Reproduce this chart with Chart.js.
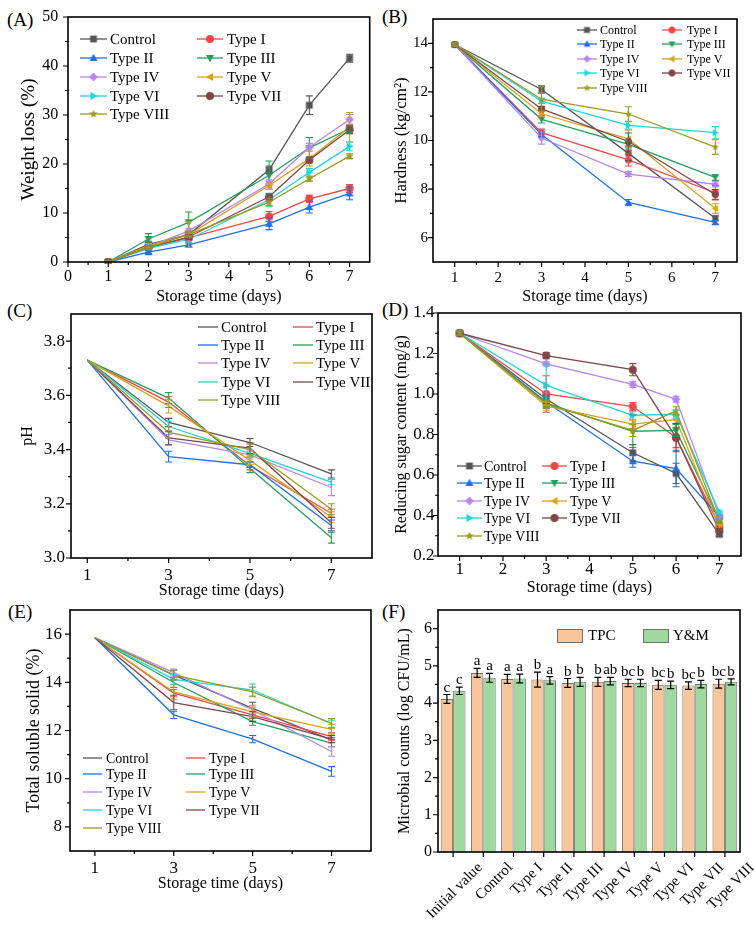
<!DOCTYPE html>
<html>
<head>
<meta charset="utf-8">
<script src="https://cdn.jsdelivr.net/npm/chart.js@4.4.1/dist/chart.umd.min.js"></script>
<style>
  body { margin: 0; background: #fff; width: 755px; height: 928px; position: relative; overflow: hidden; font-family: "Liberation Serif", serif; }
  canvas { position: absolute; }
  .tag { position: absolute; font-size: 19px; line-height: 1; color: #000; }
</style>
</head>
<body>
<div class="tag" style="left:7px;top:10px">(A)</div>
<div class="tag" style="left:382px;top:7px">(B)</div>
<div class="tag" style="left:7px;top:301px">(C)</div>
<div class="tag" style="left:382px;top:300px">(D)</div>
<div class="tag" style="left:8px;top:602px">(E)</div>
<div class="tag" style="left:382px;top:602px">(F)</div>

<canvas id="cA" width="375" height="310" style="left:0;top:0"></canvas>
<canvas id="cB" width="380" height="310" style="left:375px;top:0"></canvas>
<canvas id="cC" width="375" height="305" style="left:0;top:300px"></canvas>
<canvas id="cD" width="380" height="300" style="left:375px;top:300px"></canvas>
<canvas id="cE" width="375" height="328" style="left:0;top:600px"></canvas>
<canvas id="cF" width="380" height="328" style="left:375px;top:600px"></canvas>

<script>
const SERIF = '"Liberation Serif", "Times New Roman", serif';

const seriesNames = ['Control', 'Type I', 'Type II', 'Type III', 'Type IV', 'Type V', 'Type VI', 'Type VII', 'Type VIII'];
const seriesColors = ['#555555', '#f24646', '#1f6fe5', '#25a05c', '#b586ee', '#d9a21b', '#1fd6da', '#7e4646', '#9a9a1e'];
const markerShapes = ['square', 'circle', 'tri', 'triDown', 'diamond', 'triLeft', 'triRight', 'circle', 'star'];

// (A) weight loss (%)
const daysA = [1, 2, 3, 5, 6, 7];
const weightLoss = [
  [0, 3.6, 5.6, 18.8, 32.0, 41.6],
  [0, 3.0, 4.9, 9.3, 12.9, 15.0],
  [0, 2.0, 3.5, 7.8, 11.2, 14.0],
  [0, 4.7, 8.1, 17.7, 23.3, 27.2],
  [0, 3.2, 6.3, 15.9, 23.4, 29.1],
  [0, 3.3, 5.6, 15.6, 21.1, 27.5],
  [0, 2.8, 4.6, 12.7, 18.3, 23.6],
  [0, 3.0, 5.1, 13.3, 20.8, 27.0],
  [0, 3.0, 5.6, 12.2, 17.0, 21.6]
];
const weightLossErr = [
  [0.2, 0.4, 0.5, 0.8, 1.9, 0.8],
  [0.2, 0.3, 0.5, 1.0, 0.7, 0.8],
  [0.2, 0.3, 0.4, 1.2, 1.2, 1.3],
  [0.2, 1.1, 2.1, 2.9, 2.1, 0.8],
  [0.2, 0.5, 0.6, 0.8, 0.8, 1.0],
  [0.2, 0.5, 2.6, 0.8, 1.5, 3.0],
  [0.2, 0.3, 0.5, 1.3, 0.8, 0.9],
  [0.2, 0.3, 0.5, 0.6, 0.6, 0.8],
  [0.2, 0.3, 0.5, 0.7, 0.5, 0.5]
];
const weightTicks = [0, 10, 20, 30, 40, 50];
const weightMinor = [5, 15, 25, 35, 45];
const dayTicksA = [0, 1, 2, 3, 4, 5, 6, 7];
const dayMinorA = [0.5, 1.5, 2.5, 3.5, 4.5, 5.5, 6.5];

// (B) hardness (kg/cm2)
const daysB = [1, 3, 5, 7];
const hardness = [
  [13.95, 12.1, 9.47, 6.8],
  [13.95, 10.32, 9.2, 7.85],
  [13.95, 10.25, 7.45, 6.63],
  [13.95, 10.87, 9.84, 8.48],
  [13.95, 10.1, 8.62, 8.2],
  [13.95, 11.1, 10.07, 7.2],
  [13.95, 11.62, 10.62, 10.32],
  [13.95, 11.3, 9.96, 7.78],
  [13.95, 11.7, 11.09, 9.73]
];
const hardnessErr = [
  [0.05, 0.15, 0.3, 0.1],
  [0.05, 0.15, 0.25, 0.3],
  [0.05, 0.1, 0.12, 0.08],
  [0.05, 0.15, 0.15, 0.12],
  [0.05, 0.25, 0.1, 0.1],
  [0.05, 0.1, 0.35, 0.2],
  [0.05, 0.1, 0.15, 0.25],
  [0.05, 0.1, 0.35, 0.2],
  [0.05, 0.5, 0.3, 0.3]
];
const hardnessTicks = [6, 8, 10, 12, 14];
const hardnessMinor = [7, 9, 11, 13];
const dayTicksB = [1, 2, 3, 4, 5, 6, 7];
const dayMinorB = [1.5, 2.5, 3.5, 4.5, 5.5, 6.5];

// (C) pH
const daysC = [1, 3, 5, 7];
const pH = [
  [3.73, 3.50, 3.426, 3.31],
  [3.73, 3.575, 3.34, 3.165],
  [3.73, 3.374, 3.344, 3.12],
  [3.73, 3.59, 3.33, 3.075],
  [3.73, 3.436, 3.38, 3.26],
  [3.73, 3.56, 3.36, 3.15],
  [3.73, 3.485, 3.386, 3.28],
  [3.73, 3.443, 3.405, 3.13],
  [3.73, 3.463, 3.40, 3.18]
];
const pHErr = [
  [0, 0.015, 0.015, 0.015],
  [0, 0.02, 0.015, 0.015],
  [0, 0.02, 0.01, 0.02],
  [0, 0.02, 0.015, 0.02],
  [0, 0.02, 0.015, 0.03],
  [0, 0.025, 0.015, 0.02],
  [0, 0.02, 0.015, 0.01],
  [0, 0.025, 0.02, 0.02],
  [0, 0.02, 0.02, 0.02]
];
const pHTicks = [3.0, 3.2, 3.4, 3.6, 3.8];
const pHMinor = [3.1, 3.3, 3.5, 3.7];
const dayTicksOdd = [1, 3, 5, 7];
const dayMinorEven = [2, 4, 6];

// (D) reducing sugar content (mg/g)
const daysD = [1, 3, 5, 6, 7];
const reducingSugar = [
  [1.30, 0.975, 0.71, 0.608, 0.307],
  [1.30, 1.00, 0.938, 0.785, 0.35],
  [1.30, 0.96, 0.668, 0.632, 0.394],
  [1.30, 0.955, 0.816, 0.82, 0.378],
  [1.30, 1.149, 1.047, 0.974, 0.397],
  [1.30, 0.94, 0.851, 0.874, 0.345],
  [1.30, 1.043, 0.895, 0.90, 0.417],
  [1.30, 1.19, 1.12, 0.785, 0.325],
  [1.30, 0.95, 0.82, 0.917, 0.37]
];
const reducingSugarErr = [
  [0.01, 0.02, 0.04, 0.05, 0.01],
  [0.01, 0.09, 0.02, 0.05, 0.01],
  [0.01, 0.03, 0.03, 0.09, 0.01],
  [0.01, 0.02, 0.08, 0.03, 0.01],
  [0.01, 0.01, 0.015, 0.015, 0.01],
  [0.01, 0.02, 0.02, 0.02, 0.01],
  [0.01, 0.1, 0.02, 0.02, 0.01],
  [0.01, 0.015, 0.03, 0.07, 0.01],
  [0.01, 0.02, 0.03, 0.02, 0.01]
];
const sugarTicks = [0.2, 0.4, 0.6, 0.8, 1.0, 1.2, 1.4];
const sugarMinor = [0.3, 0.5, 0.7, 0.9, 1.1, 1.3];

// (E) total soluble solid (%)
const daysE = [1, 3, 5, 7];
const solubleSolid = [
  [15.85, 14.3, 12.92, 11.6],
  [15.85, 13.55, 12.65, 11.75],
  [15.85, 12.65, 11.64, 10.3],
  [15.85, 13.99, 12.37, 11.48],
  [15.85, 14.4, 12.85, 11.13],
  [15.85, 13.6, 12.77, 12.05],
  [15.85, 14.12, 13.68, 12.28],
  [15.85, 13.16, 12.58, 11.64],
  [15.85, 14.3, 13.6, 12.3]
];
const solubleSolidErr = [
  [0, 0.2, 0.25, 0.1],
  [0, 0.15, 0.15, 0.15],
  [0, 0.15, 0.15, 0.2],
  [0, 0.2, 0.15, 0.15],
  [0, 0.15, 0.2, 0.2],
  [0, 0.3, 0.2, 0.2],
  [0, 0.2, 0.25, 0.15],
  [0, 0.3, 0.2, 0.15],
  [0, 0.2, 0.2, 0.2]
];
const solidTicks = [8, 10, 12, 14, 16];
const solidMinor = [9, 11, 13, 15];

// (F) microbial counts (log CFU/mL)
const microbeGroups = ['Initial value', 'Control', 'Type I', 'Type II', 'Type III', 'Type IV', 'Type V', 'Type VI', 'Type VII', 'Type VIII'];
const tpc = [4.11, 4.81, 4.65, 4.63, 4.54, 4.57, 4.54, 4.49, 4.47, 4.52];
const tpcErr = [0.12, 0.12, 0.12, 0.2, 0.12, 0.12, 0.1, 0.12, 0.1, 0.12];
const tpcLetters = ['c', 'a', 'a', 'b', 'b', 'b', 'bc', 'bc', 'bc', 'bc'];
const yeastMould = [4.33, 4.68, 4.66, 4.61, 4.57, 4.59, 4.54, 4.49, 4.51, 4.57];
const yeastMouldErr = [0.1, 0.12, 0.12, 0.1, 0.12, 0.1, 0.1, 0.1, 0.1, 0.08];
const yeastMouldLetters = ['c', 'a', 'a', 'a', 'b', 'ab', 'b', 'b', 'b', 'b'];
const countTicks = [0, 1, 2, 3, 4, 5, 6];
const countMinor = [0.5, 1.5, 2.5, 3.5, 4.5, 5.5];

function makeMarker(shape, color, r) {
  const c = document.createElement('canvas');
  const s = Math.ceil(2 * r + 4);
  c.width = c.height = s;
  const g = c.getContext('2d');
  g.translate(s / 2, s / 2);
  g.rotate({ triDown: Math.PI, triLeft: -Math.PI / 2, triRight: Math.PI / 2 }[shape] || 0);
  g.fillStyle = color;
  g.beginPath();
  const poly = (pts) => { pts.forEach(([px, py], k) => (k ? g.lineTo(px, py) : g.moveTo(px, py))); g.closePath(); };
  if (shape === 'circle') g.arc(0, 0, r, 0, Math.PI * 2);
  else if (shape === 'square') { const h = r * 0.85; g.rect(-h, -h, 2 * h, 2 * h); }
  else if (shape === 'diamond') poly([[0, -r * 1.1], [r * 1.1, 0], [0, r * 1.1], [-r * 1.1, 0]]);
  else if (shape === 'star') {
    const pts = [];
    for (let k = 0; k < 10; k++) {
      const a = -Math.PI / 2 + k * Math.PI / 5, rr = k % 2 ? r * 0.45 : r * 1.15;
      pts.push([rr * Math.cos(a), rr * Math.sin(a)]);
    }
    poly(pts);
  } else poly([[0, -r * 1.05], [r, r * 0.75], [-r, r * 0.75]]);
  g.fill();
  return c;
}

// box with outward major / minor ticks
const framePlugin = {
  id: 'frame',
  afterDraw(chart, args, o) {
    const { ctx, chartArea: a, scales: { x, y } } = chart;
    ctx.save();
    ctx.strokeStyle = '#000';
    ctx.lineWidth = 1.2;
    ctx.beginPath();
    (o.xMajor || []).forEach((v) => { const p = x.getPixelForValue(v); ctx.moveTo(p, a.bottom); ctx.lineTo(p, a.bottom + 5); });
    (o.xMinor || []).forEach((v) => { const p = x.getPixelForValue(v); ctx.moveTo(p, a.bottom); ctx.lineTo(p, a.bottom + 3); });
    (o.yMajor || []).forEach((v) => { const p = y.getPixelForValue(v); ctx.moveTo(a.left, p); ctx.lineTo(a.left - 5, p); });
    (o.yMinor || []).forEach((v) => { const p = y.getPixelForValue(v); ctx.moveTo(a.left, p); ctx.lineTo(a.left - 3, p); });
    ctx.stroke();
    ctx.lineWidth = 1.6;
    ctx.strokeRect(a.left, a.top, a.right - a.left, a.bottom - a.top);
    ctx.restore();
  }
};

const errorBars = {
  id: 'errorBars',
  afterDatasetsDraw(chart, args, o) {
    const { ctx } = chart, y = chart.scales.y, cap = o.cap || 3.5;
    ctx.save();
    ctx.lineWidth = o.width || 1.1;
    chart.data.datasets.forEach((ds, i) => {
      ctx.strokeStyle = o.color || ds.borderColor;
      chart.getDatasetMeta(i).data.forEach((el, j) => {
        const err = ds.errors[j];
        if (!err) return;
        const raw = ds.data[j], v = typeof raw === 'object' ? raw.y : raw;
        const top = y.getPixelForValue(v + err), bot = y.getPixelForValue(v - err);
        ctx.beginPath();
        ctx.moveTo(el.x, top); ctx.lineTo(el.x, bot);
        ctx.moveTo(el.x - cap, top); ctx.lineTo(el.x + cap, top);
        ctx.moveTo(el.x - cap, bot); ctx.lineTo(el.x + cap, bot);
        ctx.stroke();
      });
    });
    ctx.restore();
  }
};

const seriesLegend = {
  id: 'seriesLegend',
  afterDraw(chart, args, o) {
    if (!o.rows) return;
    const ctx = chart.ctx;
    ctx.save();
    ctx.font = o.size + 'px ' + SERIF;
    ctx.textBaseline = 'middle';
    chart.data.datasets.forEach((ds, i) => {
      const col = o.cols[i % 2], y = o.rows[Math.floor(i / 2)];
      ctx.strokeStyle = ds.borderColor;
      ctx.lineWidth = 1.3;
      ctx.beginPath(); ctx.moveTo(col[0], y); ctx.lineTo(col[1], y); ctx.stroke();
      if (ds.pointStyle) ctx.drawImage(ds.pointStyle, (col[0] + col[1]) / 2 - ds.pointStyle.width / 2, y - ds.pointStyle.height / 2);
      ctx.fillStyle = '#000';
      ctx.fillText(ds.label, col[2], y + 1);
    });
    ctx.restore();
  }
};

function linePanel(id, c) {
  const datasets = seriesNames.map((name, i) => ({
    label: name,
    data: c.days.map((d, j) => ({ x: d, y: c.values[i][j] })),
    errors: c.errors[i],
    borderColor: seriesColors[i],
    backgroundColor: seriesColors[i],
    borderWidth: 1.3,
    pointStyle: c.markerR ? makeMarker(markerShapes[i], seriesColors[i], c.markerR) : false,
    pointRadius: c.markerR ? 4 : 0,
    order: seriesNames.length - i,
    tension: 0
  }));
  const fmt = (v) => Number(v).toFixed(c.decimals || 0);
  new Chart(document.getElementById(id), {
    type: 'line',
    data: { datasets },
    plugins: [framePlugin, errorBars, seriesLegend],
    options: {
      responsive: false,
      animation: false,
      devicePixelRatio: 1,
      events: [],
      layout: { padding: { top: c.padTop, right: c.padRight, left: 0, bottom: 0 } },
      plugins: {
        legend: { display: false },
        tooltip: { enabled: false },
        frame: { xMajor: c.xMajor, xMinor: c.xMinor, yMajor: c.yMajor, yMinor: c.yMinor },
        errorBars: { cap: 3.5 },
        seriesLegend: c.legend
      },
      scales: {
        x: {
          type: 'linear', min: c.xMin, max: c.xMax,
          afterBuildTicks: (s) => { s.ticks = c.xMajor.map((v) => ({ value: v })); },
          afterFit: (s) => { s.height = c.xHeight; s.paddingLeft = s.paddingRight = 0; },
          grid: { display: false, drawTicks: false },
          border: { display: false },
          ticks: { color: '#000', font: { family: SERIF, size: c.tickSize }, padding: c.xTickPad, maxRotation: 0, callback: (v) => String(v) },
          title: { display: true, text: 'Storage time (days)', color: '#000', font: { family: SERIF, size: 16 }, padding: { top: 0, bottom: c.xTitlePad } }
        },
        y: {
          min: c.yMin, max: c.yMax,
          afterBuildTicks: (s) => { s.ticks = c.yMajor.map((v) => ({ value: v })); },
          afterFit: (s) => { s.width = c.yWidth; s.paddingTop = s.paddingBottom = 0; },
          grid: { display: false, drawTicks: false },
          border: { display: false },
          ticks: { color: '#000', font: { family: SERIF, size: c.tickSize }, padding: c.yTickPad, callback: fmt },
          title: { display: true, text: c.yTitle, color: '#000', font: { family: SERIF, size: c.yTitleSize }, padding: { top: c.yTitlePad, bottom: 0 } }
        }
      }
    }
  });
}

linePanel('cA', {
  days: daysA, values: weightLoss, errors: weightLossErr, markerR: 4,
  xMin: 0, xMax: 7.5, yMin: 0, yMax: 50,
  xMajor: dayTicksA, xMinor: dayMinorA, yMajor: weightTicks, yMinor: weightMinor,
  yTitle: 'Weight loss (%)', yTitleSize: 19, yTitlePad: 17.6, xTitlePad: 3.4,
  tickSize: 16, xTickPad: 5.4, yTickPad: 9.7,
  padTop: 17, padRight: 3, yWidth: 68, xHeight: 48,
  legend: { size: 15, cols: [[80, 107, 110], [197, 223, 227]], rows: [39, 58, 77, 96, 114] }
});

linePanel('cB', {
  days: daysB, values: hardness, errors: hardnessErr, markerR: 3.5,
  xMin: 0.5, xMax: 7.5, yMin: 5, yMax: 15,
  xMajor: dayTicksB, xMinor: dayMinorB, yMajor: hardnessTicks, yMinor: hardnessMinor,
  yTitle: 'Hardness (kg/cm²)', yTitleSize: 17, yTitlePad: 16.8, xTitlePad: 3.4,
  tickSize: 15, xTickPad: 7, yTickPad: 5,
  padTop: 19, padRight: 18, yWidth: 58, xHeight: 48,
  legend: { size: 12, cols: [[202, 222, 225], [287, 307, 312]], rows: [30, 44, 59, 73, 88] }
});

linePanel('cC', {
  days: daysC, values: pH, errors: pHErr, markerR: 0, decimals: 1,
  xMin: 0.6, xMax: 8, yMin: 3.0, yMax: 3.9,
  xMajor: dayTicksOdd, xMinor: dayMinorEven, yMajor: pHTicks, yMinor: pHMinor,
  yTitle: 'pH', yTitleSize: 16, yTitlePad: 17.9, xTitlePad: 4.4,
  tickSize: 17, xTickPad: 7.8, yTickPad: 6,
  padTop: 14, padRight: 3, yWidth: 71, xHeight: 47,
  legend: { size: 15, cols: [[198, 218, 221], [293, 313, 316]], rows: [27, 45, 63, 82, 100] }
});

linePanel('cD', {
  days: daysD, values: reducingSugar, errors: reducingSugarErr, markerR: 4, decimals: 1,
  xMin: 0.5, xMax: 7.5, yMin: 0.2, yMax: 1.4,
  xMajor: dayTicksB, xMinor: dayMinorB, yMajor: sugarTicks, yMinor: sugarMinor,
  yTitle: 'Reducing sugar content (mg/g)', yTitleSize: 16, yTitlePad: 16.9, xTitlePad: 2.4,
  tickSize: 17, xTickPad: 3.8, yTickPad: 3.5,
  padTop: 13, padRight: 14, yWidth: 63, xHeight: 44,
  legend: { size: 14, cols: [[82, 107, 109], [167, 192, 195]], rows: [166, 183, 201, 218, 236] }
});

linePanel('cE', {
  days: daysE, values: solubleSolid, errors: solubleSolidErr, markerR: 0,
  xMin: 0.37, xMax: 8, yMin: 7, yMax: 17,
  xMajor: dayTicksOdd, xMinor: dayMinorEven, yMajor: solidTicks, yMinor: solidMinor,
  yTitle: 'Total soluble solid (%)', yTitleSize: 18, yTitlePad: 23.7, xTitlePad: 34.4,
  tickSize: 17, xTickPad: 7.8, yTickPad: 8,
  padTop: 10, padRight: 4, yWidth: 70, xHeight: 77,
  legend: { size: 14, cols: [[83, 102, 106], [186, 205, 209]], rows: [158, 174, 192, 210, 228] }
});

// (F) bars
const sigLetters = {
  id: 'sigLetters',
  afterDatasetsDraw(chart) {
    const { ctx } = chart, y = chart.scales.y;
    ctx.save();
    ctx.font = '15px ' + SERIF;
    ctx.textAlign = 'center';
    ctx.textBaseline = 'alphabetic';
    ctx.fillStyle = '#000';
    chart.data.datasets.forEach((ds, i) => {
      chart.getDatasetMeta(i).data.forEach((el, j) => {
        ctx.fillText(ds.letters[j], el.x, y.getPixelForValue(ds.data[j] + ds.errors[j]) - 3);
      });
    });
    ctx.restore();
  }
};

const boxLegend = {
  id: 'boxLegend',
  afterDraw(chart, args, o) {
    const ctx = chart.ctx;
    ctx.save();
    ctx.font = o.size + 'px ' + SERIF;
    ctx.textBaseline = 'middle';
    chart.data.datasets.forEach((ds, i) => {
      const [bx, tx] = o.cols[i];
      ctx.fillStyle = ds.backgroundColor;
      ctx.fillRect(bx, o.top, o.w, o.h);
      ctx.strokeStyle = ds.borderColor;
      ctx.lineWidth = 1;
      ctx.strokeRect(bx + 0.5, o.top + 0.5, o.w, o.h);
      ctx.fillStyle = '#000';
      ctx.fillText(ds.label, tx, o.top + o.h / 2 + 1);
    });
    ctx.restore();
  }
};

new Chart(document.getElementById('cF'), {
  type: 'bar',
  data: {
    labels: microbeGroups,
    datasets: [
      { label: 'TPC', data: tpc, errors: tpcErr, letters: tpcLetters, backgroundColor: '#f9c59a', borderColor: '#707070', borderWidth: 1 },
      { label: 'Y&M', data: yeastMould, errors: yeastMouldErr, letters: yeastMouldLetters, backgroundColor: '#a0d9a0', borderColor: '#707070', borderWidth: 1 }
    ]
  },
  plugins: [framePlugin, errorBars, sigLetters, boxLegend],
  options: {
    responsive: false,
    animation: false,
    devicePixelRatio: 1,
    events: [],
    categoryPercentage: 0.82,
    barPercentage: 1,
    layout: { padding: { top: 10, right: 15, left: 0, bottom: 0 } },
    plugins: {
      legend: { display: false },
      tooltip: { enabled: false },
      frame: { xMajor: microbeGroups.map((g, i) => i), yMajor: countTicks, yMinor: countMinor },
      errorBars: { color: '#000', cap: 3.5, width: 1.2 },
      boxLegend: { size: 15, top: 29, w: 25, h: 13, cols: [[182, 213], [268, 298]] }
    },
    scales: {
      x: {
        afterFit: (s) => { s.height = 76; s.paddingLeft = s.paddingRight = 0; },
        grid: { display: false, drawTicks: false },
        border: { display: false },
        ticks: { color: '#000', font: { family: SERIF, size: 15 }, minRotation: 45, maxRotation: 45, autoSkip: false, labelOffset: 27, padding: 7 }
      },
      y: {
        min: 0, max: 6.5,
        afterBuildTicks: (s) => { s.ticks = countTicks.map((v) => ({ value: v })); },
        afterFit: (s) => { s.width = 63; s.paddingTop = s.paddingBottom = 0; },
        grid: { display: false, drawTicks: false },
        border: { display: false },
        ticks: { color: '#000', font: { family: SERIF, size: 16 }, padding: 6 },
        title: { display: true, text: 'Microbial counts (log CFU/mL)', color: '#000', font: { family: SERIF, size: 16 }, padding: { top: 19.9, bottom: 0 } }
      }
    }
  }
});
</script>
</body>
</html>
